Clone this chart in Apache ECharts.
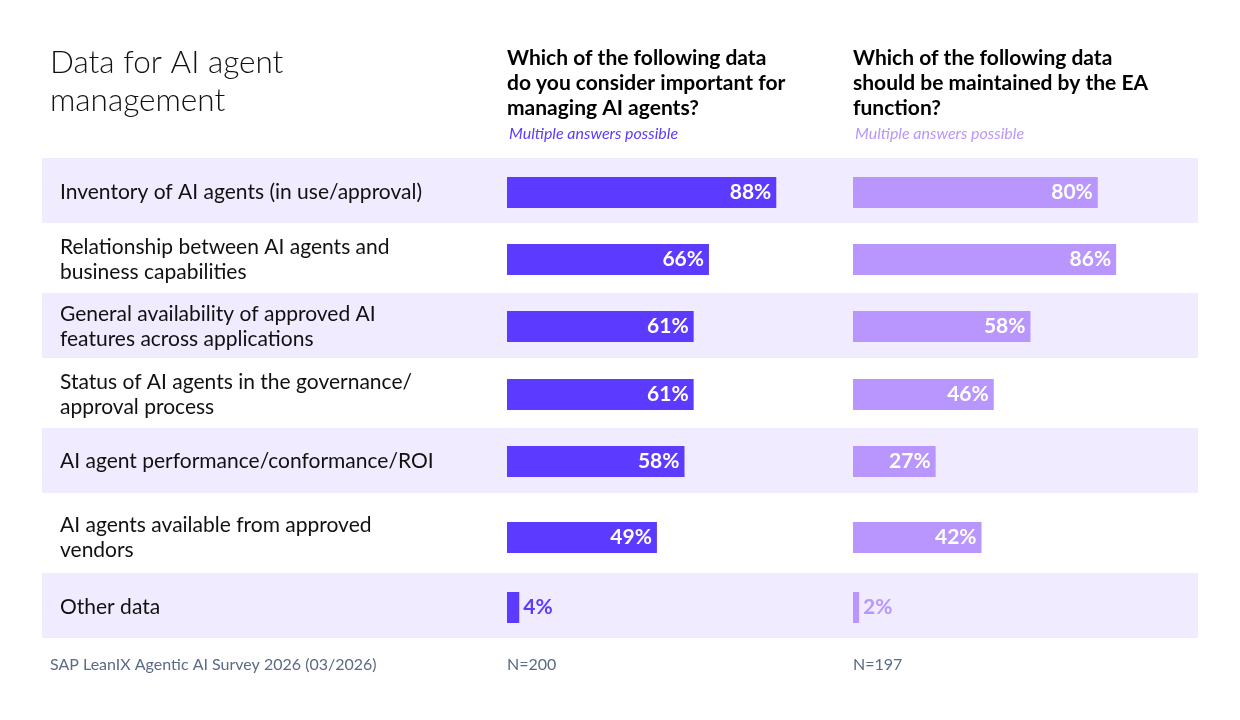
<!DOCTYPE html>
<html>
<head>
<meta charset="utf-8">
<script src="https://cdn.jsdelivr.net/npm/echarts@6/dist/echarts.min.js"></script>
<style>
  html, body { margin: 0; padding: 0; background: #fff; }
  #chart { width: 1240px; height: 720px; }
</style>
</head>
<body>
<div id="chart"></div>
<script>
const categories = [
    'Inventory of AI agents (in use/approval)',
    'Relationship between AI agents and\nbusiness capabilities',
    'General availability of approved AI\nfeatures across applications',
    'Status of AI agents in the governance/\napproval process',
    'AI agent performance/conformance/ROI',
    'AI agents available from approved\nvendors',
    'Other data'
];
const importantValues = [88, 66, 61, 61, 58, 49, 4];
const maintainedValues = [80, 86, 58, 46, 27, 42, 2];
const chartTitle = 'Data for AI agent\nmanagement';
const columnTitles = [
    'Which of the following data\ndo you consider important for\nmanaging AI agents?',
    'Which of the following data\nshould be maintained by the EA\nfunction?'
];
const subTitle = 'Multiple answers possible';
const sampleSizes = ['N=200', 'N=197'];
const sourceNote = 'SAP LeanIX Agentic AI Survey 2026 (03/2026)';

// layout
const FONT = 'Lato, "Noto Sans", sans-serif';
const barCenters = [192.5, 259.5, 326.5, 394.5, 461.5, 537.5, 607.5];
const shadedBands = [[158, 223], [293, 358], [428, 493], [573, 638]];
const columns = [
    { left: 507, color: '#5D3AFF', values: importantValues },
    { left: 853, color: '#B996FD', values: maintainedValues }
];

let grids = [], xAxes = [], yAxes = [], series = [];
categories.forEach(function (cat, i) {
    columns.forEach(function (col, c) {
        let idx = grids.length;
        grids.push({ left: col.left, top: barCenters[i] - 30, width: 306, height: 60 });
        xAxes.push({ gridIndex: idx, type: 'value', min: 0, max: 100, show: false });
        yAxes.push({
            gridIndex: idx,
            type: 'category',
            data: [cat],
            axisLine: { show: false },
            axisTick: { show: false },
            axisLabel: c === 0 ? {
                show: true, align: 'left', margin: col.left - 60,
                fontFamily: FONT, fontSize: 21, lineHeight: 25, color: '#111'
            } : { show: false }
        });
        let v = col.values[i];
        series.push({
            type: 'bar',
            xAxisIndex: idx,
            yAxisIndex: idx,
            barWidth: 31,
            silent: true,
            itemStyle: { color: col.color },
            label: {
                show: true,
                position: 'insideRight',
                distance: 5,
                formatter: '{c}%',
                color: '#fff',
                fontFamily: FONT,
                fontSize: 21,
                fontWeight: 'bold'
            },
            data: [v < 10 ? { value: v, label: { position: 'right', color: col.color, distance: 4 } } : v]
        });
    });
});

let graphics = shadedBands.map(function (b) {
    return { type: 'rect', z: -10, shape: { x: 42, y: b[0], width: 1156, height: b[1] - b[0] }, style: { fill: '#F0EBFE' } };
});
graphics.push({
    type: 'text', left: 50, top: 44,
    style: { text: chartTitle, font: '300 31.5px ' + FONT, lineHeight: 38, fill: '#111' }
});
columns.forEach(function (col, c) {
    graphics.push({
        type: 'text', left: col.left, top: 46,
        style: { text: columnTitles[c], font: 'bold 21px ' + FONT, lineHeight: 25, fill: '#000' }
    });
    graphics.push({
        type: 'text', left: col.left + 2, top: 126,
        style: { text: subTitle, font: 'italic 16px ' + FONT, fill: col.color }
    });
    graphics.push({
        type: 'text', left: col.left, top: 657,
        style: { text: sampleSizes[c], font: '16px ' + FONT, fill: '#5B6B86' }
    });
});
graphics.push({
    type: 'text', left: 50, top: 657,
    style: { text: sourceNote, font: '16px ' + FONT, fill: '#5B6B86' }
});

let myChart = echarts.init(document.getElementById('chart'));
myChart.setOption({
    backgroundColor: '#fff',
    animation: false,
    grid: grids,
    xAxis: xAxes,
    yAxis: yAxes,
    series: series,
    graphic: graphics
});
</script>
</body>
</html>
